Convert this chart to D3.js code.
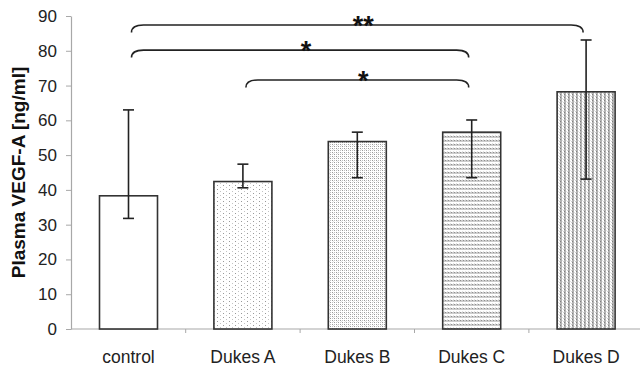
<!DOCTYPE html>
<html>
<head>
<meta charset="utf-8">
<script src="https://cdn.jsdelivr.net/npm/d3@7"></script>
<style>
  html, body { margin: 0; padding: 0; background: #fff; }
  svg { display: block; font-family: "Liberation Sans", Arial, sans-serif; }
</style>
</head>
<body>
<svg id="chart" width="640" height="367"></svg>
<script>
// Plasma VEGF-A by group
const categories = ["control", "Dukes A", "Dukes B", "Dukes C", "Dukes D"];
const means      = [38.3, 42.4, 53.9, 56.6, 68.2];
const errLow     = [31.8, 40.6, 43.5, 43.5, 43.1];
const errHigh    = [63.0, 47.4, 56.6, 60.1, 83.1];
const fills      = ["none", "dotsSparse", "dotsDense", "stripesH", "stripesV"];
const yTicks     = [0, 10, 20, 30, 40, 50, 60, 70, 80, 90];

// significance brackets: from group, to group, level, label
const bracketFrom  = ["control", "control", "Dukes A"];
const bracketTo    = ["Dukes D", "Dukes C", "Dukes C"];
const bracketLevel = [87.4, 80.2, 71.6];
const bracketLabel = ["**", "*", "*"];

const FONT = "Liberation Sans, Arial, sans-serif";
const svg = d3.select("#chart");

const x = d3.scaleBand()
  .domain(categories)
  .range([71.3, 643.3])
  .paddingInner(0.493)
  .paddingOuter(0.2465);

const y = d3.scaleLinear().domain([0, 90]).range([329, 16]);

// fill patterns
const defs = svg.append("defs");
function pattern(id, w, h, draw) {
  const p = defs.append("pattern")
    .attr("id", id).attr("patternUnits", "userSpaceOnUse")
    .attr("width", w).attr("height", h);
  p.append("rect").attr("width", w).attr("height", h).attr("fill", "#fff");
  draw(p);
}
function px(p, x0, y0, c, w = 1, h = 1) {
  p.append("rect").attr("x", x0).attr("y", y0).attr("width", w).attr("height", h).attr("fill", c);
}
pattern("dotsSparse", 6, 4, p => {
  px(p, 1, 1, "#999");
  px(p, 4, 3, "#c4c4c4");
});
pattern("dotsDense", 4, 4, p => {
  px(p, 0, 0, "#9a9a9a");
  px(p, 2, 0, "#c0c0c0");
  px(p, 0, 2, "#c0c0c0");
  px(p, 2, 2, "#9a9a9a");
  px(p, 1, 1, "#e2e2e2");
});
pattern("stripesH", 3, 4, p => {
  px(p, 0, 0, "#cdcdcd", 3, 2);
  px(p, 1, 0, "#8e8e8e");
  px(p, 0, 3, "#e0e0e0");
});
pattern("stripesV", 4, 3, p => {
  px(p, 0, 0, "#b4b4b4", 2, 3);
  px(p, 0, 1, "#808080");
  px(p, 3, 0, "#d0d0d0");
  px(p, 2, 2, "#e0e0e0");
});

// y axis
const yAxis = svg.append("g")
  .attr("transform", "translate(71,0)")
  .call(d3.axisLeft(y).tickValues(yTicks).tickSize(5).tickSizeOuter(0).tickPadding(9));
yAxis.select(".domain").attr("stroke", "#a8a8a8").attr("stroke-width", 1.2);
yAxis.selectAll(".tick line").attr("stroke", "#a8a8a8");
yAxis.selectAll(".tick text").attr("font-size", 17).attr("fill", "#222").attr("font-family", FONT);

// x axis: baseline, group-boundary ticks, labels
svg.append("line")
  .attr("x1", 71).attr("x2", 640).attr("y1", y(0)).attr("y2", y(0))
  .attr("stroke", "#a8a8a8").attr("stroke-width", 1.2);
svg.selectAll(".xtick").data(categories.slice(1)).enter().append("line")
  .attr("class", "xtick")
  .attr("x1", d => x(d) - x.step() * x.paddingInner() / 2)
  .attr("x2", d => x(d) - x.step() * x.paddingInner() / 2)
  .attr("y1", y(0)).attr("y2", y(0) + 4)
  .attr("stroke", "#a8a8a8");
const xAxis = svg.append("g")
  .attr("transform", `translate(0,${y(0)})`)
  .call(d3.axisBottom(x).tickSize(0).tickPadding(21.5));
xAxis.select(".domain").remove();
xAxis.selectAll(".tick text").attr("font-size", 17.5).attr("fill", "#222").attr("font-family", FONT);

// y axis title
svg.append("text")
  .attr("transform", `translate(25,${(y(0) + y(90)) / 2}) rotate(-90)`)
  .attr("text-anchor", "middle")
  .attr("font-size", 19).attr("font-weight", "bold").attr("fill", "#111")
  .attr("font-family", FONT)
  .text("Plasma VEGF-A [ng/ml]");

// bars
svg.selectAll(".bar").data(categories).enter().append("rect")
  .attr("class", "bar")
  .attr("x", d => x(d))
  .attr("width", x.bandwidth())
  .attr("y", (d, i) => y(means[i]))
  .attr("height", (d, i) => y(0) - y(means[i]))
  .attr("fill", (d, i) => fills[i] === "none" ? "#fff" : `url(#${fills[i]})`)
  .attr("stroke", "#333").attr("stroke-width", 1.6);

// error bars
const eb = svg.selectAll(".err").data(categories).enter().append("g")
  .attr("transform", d => `translate(${x(d) + x.bandwidth() / 2},0)`)
  .attr("stroke", "#222").attr("stroke-width", 1.6);
eb.append("line").attr("y1", (d, i) => y(errLow[i])).attr("y2", (d, i) => y(errHigh[i]));
eb.append("line").attr("x1", -5.5).attr("x2", 5.5)
  .attr("y1", (d, i) => y(errLow[i])).attr("y2", (d, i) => y(errLow[i]));
eb.append("line").attr("x1", -5.5).attr("x2", 5.5)
  .attr("y1", (d, i) => y(errHigh[i])).attr("y2", (d, i) => y(errHigh[i]));

// significance brackets
bracketFrom.forEach((from, i) => {
  const x1 = x(from) + x.bandwidth() / 2 + 3;
  const x2 = x(bracketTo[i]) + x.bandwidth() / 2 - 3;
  const yy = y(bracketLevel[i]);
  const r = 12, drop = 7.5;
  const p = d3.path();
  p.moveTo(x1, yy + drop);
  p.quadraticCurveTo(x1, yy, x1 + r, yy);
  p.lineTo(x2 - r, yy);
  p.quadraticCurveTo(x2, yy, x2, yy + drop);
  svg.append("path").attr("d", p.toString())
    .attr("fill", "none").attr("stroke", "#222").attr("stroke-width", 1.6);
  svg.append("text")
    .attr("x", (x1 + x2) / 2 + 6)
    .attr("y", yy + 10)
    .attr("text-anchor", "middle")
    .attr("font-size", 27).attr("font-weight", "bold").attr("fill", "#111")
    .attr("font-family", FONT)
    .text(bracketLabel[i]);
});
</script>
</body>
</html>
